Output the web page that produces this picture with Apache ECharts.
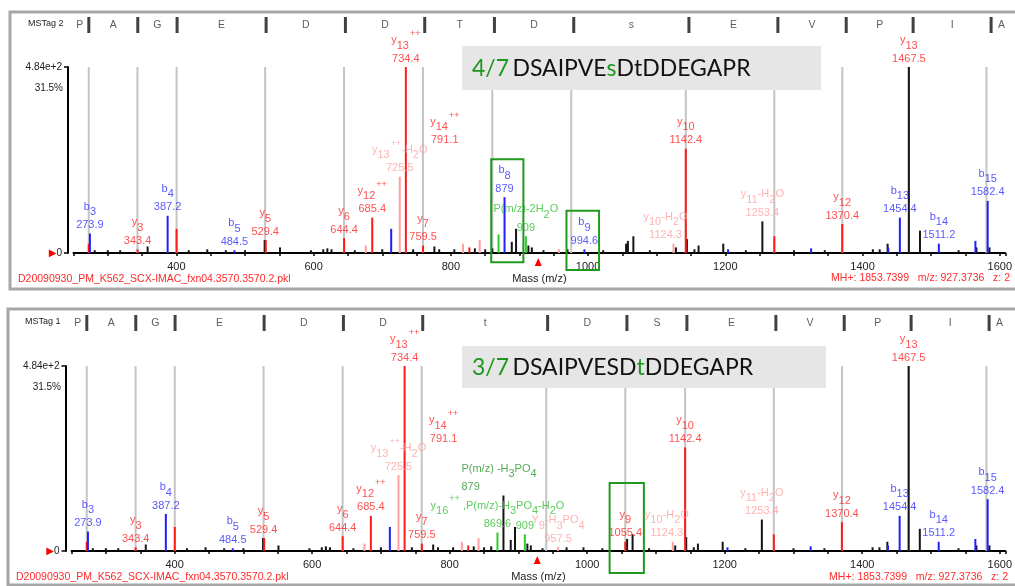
<!DOCTYPE html>
<html><head><meta charset="utf-8">
<script src="https://cdn.jsdelivr.net/npm/echarts@6/dist/echarts.min.js"></script>
<style>html,body{margin:0;padding:0;background:#fff}#c{width:1015px;height:586px}</style>
</head><body><div id="c"></div><script>
// ---------------- data ----------------
const xMin = 250, xMax = 1608, xTick = 50, xLabelStep = 200;
const yMaxLabel = '4.84e+2';
const yPctLabel = '31.5%';
const precursorMz = 927.3736;
const fileName = 'D20090930_PM_K562_SCX-IMAC_fxn04.3570.3570.2.pkl';
const precursorInfo = 'MH+: 1853.7399   m/z: 927.3736   z: 2';

const peakMz = [272.2, 273.9, 281, 300, 318, 343.4, 358, 387.2, 400.2, 418, 445, 472, 484.5, 500, 528.6, 530.2,
  551, 596, 614, 620, 626, 644.4, 660, 676, 685.4, 700, 713, 725.5, 734.4, 745, 759.5, 776, 783, 805, 817.7,
  827, 835, 842, 850, 860.4, 869.5, 878.2, 888.8, 895, 909.3, 913, 918, 935, 957.5, 970, 994.6, 1022, 1055.4,
  1058, 1066, 1090, 1124.5, 1128, 1142.4, 1144, 1155, 1161, 1197, 1204, 1230, 1254, 1271.4, 1300, 1325, 1345,
  1370.4, 1415, 1425, 1436.5, 1437.5, 1454.4, 1467.5, 1483.7, 1511.2, 1540, 1564.5, 1566, 1582.4, 1585];
const peakInt = [5, 10.5, 1.5, 1.5, 1.5, 2, 3.5, 20, 13, 1.5, 2, 1.5, 1.5, 1.5, 7, 7,
  3, 1.5, 2, 2.5, 2, 8, 1.5, 4, 19, 2, 13, 41, 100, 2, 4, 3.5, 2, 2, 5,
  3, 2.5, 7, 2, 2.5, 10, 30, 6, 13, 9, 4, 3, 1.5, 2, 2, 2, 1.5, 5,
  6.5, 9, 1.5, 5, 3, 56, 7.5, 2, 4, 5, 2, 1.5, 17, 9, 1.5, 2.5, 1.5,
  15.6, 2, 2, 5, 3, 19, 100, 12, 5, 1.5, 6.5, 3, 28, 3];
const peakClassTop = ['r','b','k','k','k','r','k','b','r','k','k','k','b','k','k','r',
  'k','k','k','k','k','r','k','p','r','k','b','p','r','k','r','k','k','k','p',
  'r','k','p','k','k','g','b','k','k','g','k','k','k','p','k','b','k','k',
  'k','k','k','p','k','r','k','k','k','k','b','k','k','r','k','b','k',
  'r','k','k','k','b','b','k','k','b','k','b','k','b','k'];
const peakClassBottom = ['r','b','k','k','k','r','k','b','r','k','k','k','b','k','k','r',
  'k','k','k','k','k','r','k','p','r','k','b','p','r','k','r','k','k','k','p',
  'r','k','p','k','k','g','k','k','k','g','k','k','k','p','k','k','k','r',
  'k','k','k','p','k','r','k','k','k','k','b','k','k','r','k','b','k',
  'r','k','k','k','b','b','k','k','b','k','b','k','b','k'];

const ladderTop = [272.2, 343.2, 400.2, 529.3, 644.3, 759.3, 860.4, 975.4, 1142.4, 1271.4, 1370.5, 1467.5, 1580.6];
const ladderBottom = [272.2, 343.2, 400.2, 529.3, 644.3, 759.3, 940.4, 1055.4, 1142.4, 1271.4, 1370.5, 1467.5, 1580.6];
const seqTop = ['P','A','G','E','D','D','T','D','s','E','V','P','I','A'];
const seqBottom = ['P','A','G','E','D','D','t','D','S','E','V','P','I','A'];

// annotations: [m/z, intensity, ion label, mass label, colour key]
const annTop = [
  [273.9, 10.5, 'b_3', '273.9', 'b'], [343.4, 2, 'y_3', '343.4', 'r'], [387.2, 20, 'b_4', '387.2', 'b'],
  [484.5, 1.5, 'b_5', '484.5', 'b'], [529.4, 7, 'y_5', '529.4', 'r'], [644.4, 8, 'y_6', '644.4', 'r'],
  [685.4, 19, 'y_12^++', '685.4', 'r'], [725.5, 41, 'y_13^++-H_2O', '725.5', 'p'], [734.4, 100, 'y_13^++', '734.4', 'r'],
  [759.5, 4, 'y_7', '759.5', 'r'], [791.1, 56, 'y_14^++', '791.1', 'r'], [878.2, 30, 'b_8', '879', 'b'],
  [909.3, 9, 'P(m/z)-2H_2O', '909', 'g'], [994.6, 2, 'b_9', '994.6', 'b'], [1124.5, 5, 'y_10-H_2O', '1124.3', 'p'],
  [1142.4, 56, 'y_10', '1142.4', 'r'], [1254, 17, 'y_11-H_2O', '1253.4', 'p'], [1370.4, 15.6, 'y_12', '1370.4', 'r'],
  [1454.4, 19, 'b_13', '1454.4', 'b'], [1467.5, 100, 'y_13', '1467.5', 'r'], [1511.2, 5, 'b_14', '1511.2', 'b'],
  [1582.4, 28, 'b_15', '1582.4', 'b']
];
const annBottom = [
  [273.9, 10.5, 'b_3', '273.9', 'b'], [343.4, 2, 'y_3', '343.4', 'r'], [387.2, 20, 'b_4', '387.2', 'b'],
  [484.5, 1.5, 'b_5', '484.5', 'b'], [529.4, 7, 'y_5', '529.4', 'r'], [644.4, 8, 'y_6', '644.4', 'r'],
  [685.4, 19, 'y_12^++', '685.4', 'r'], [725.5, 41, 'y_13^++-H_2O', '725.5', 'p'], [734.4, 100, 'y_13^++', '734.4', 'r'],
  [759.5, 4, 'y_7', '759.5', 'r'], [791.1, 56, 'y_14^++', '791.1', 'r'],
  [878.2, 30, 'P(m/z) -H_3PO_4', '879', 'dg'],
  [869.5, 10, 'y_16^++ ,P(m/z)-H_3PO_4-H_2O', '869.6', 'g'], [909.3, 9, '', '909', 'g'],
  [957.5, 2, 'Y_9-H_3PO_4', '957.5', 'p'], [1055.4, 5, 'y_9', '1055.4', 'r'],
  [1124.5, 5, 'y_10-H_2O', '1124.3', 'p'],
  [1142.4, 56, 'y_10', '1142.4', 'r'], [1254, 17, 'y_11-H_2O', '1253.4', 'p'], [1370.4, 15.6, 'y_12', '1370.4', 'r'],
  [1454.4, 19, 'b_13', '1454.4', 'b'], [1467.5, 100, 'y_13', '1467.5', 'r'], [1511.2, 5, 'b_14', '1511.2', 'b'],
  [1582.4, 28, 'b_15', '1582.4', 'b']
];
// highlighted regions: [m/z from, m/z to, intensity top, intensity bottom]
const boxTop = [[858.8, 905.7, 50.4, -5], [968.5, 1016, 22.7, -9.1]];
const boxBottom = [[1032.6, 1082.4, 36.8, -11.9]];
const titleTop = ['4/7', 'DSAIPVE', 's', 'DtDDEGAPR'];
const titleBottom = ['3/7', 'DSAIPVESD', 't', 'DDEGAPR'];

// ---------------- styles ----------------
const F = '"Liberation Sans", Arial, sans-serif';
const BAR = {r:'#ff1a1a', p:'#ff9f9f', b:'#2020ff', k:'#141414', g:'#2ccc2c'};
const LAB = {r:'#ff2424', p:'#ffa0a0', b:'#3030ff', g:'#33c133', dg:'#2a942a'};
const LADDER_COLOR = '#c4c4c4';
const RICH = {
  i: {fontSize: 11, lineHeight: 22, fontFamily: F},
  s: {fontSize: 11, lineHeight: 11, verticalAlign: 'bottom', fontFamily: F},
  p: {fontSize: 9, lineHeight: 9, verticalAlign: 'top', fontFamily: F, padding: [0, 0, 0, 1]},
  n: {fontSize: 11, lineHeight: 15, fontFamily: F}
};
const annStyleTop = {14: {offset: [-8, 0]}};
const annStyleBottom = {11: {align: 'left', offset: [-42, 0]}, 16: {offset: [-6, 0]}};

function toRich(markup) {
  let out = '';
  const re = /_(\d+)|\^(\++)|([^_^]+)/g; let m;
  while ((m = re.exec(markup))) {
    if (m[1]) out += '{s|' + m[1] + '}';
    else if (m[2]) out += '{p|' + m[2] + '}';
    else out += '{i|' + m[3] + '}';
  }
  return out;
}

const grids = [
  {left: 73.5, top: 67, width: 936.5, height: 186},
  {left: 71.5, top: 366, width: 936.5, height: 185},
  {left: 73.5, top: 17, width: 936.5, height: 16},
  {left: 71.5, top: 315, width: 936.5, height: 16}
];
function mainX(gi) {
  return {type: 'value', gridIndex: gi, min: xMin, max: xMax, interval: xTick,
    name: 'Mass (m/z)', nameLocation: 'middle', nameGap: 20,
    nameTextStyle: {fontSize: 11, color: '#222', fontFamily: F},
    axisLine: {lineStyle: {color: '#000', width: 2}},
    axisTick: {length: 3, lineStyle: {color: '#000', width: 1.5}},
    axisLabel: {formatter: v => (v % xLabelStep === 0 ? String(v) : ''), fontSize: 11, color: '#222', margin: 8, fontFamily: F},
    splitLine: {show: false}};
}
function hdrX(gi) { return {type: 'value', gridIndex: gi, min: xMin, max: xMax, show: false}; }
function mainY(gi, off) {
  return {type: 'value', gridIndex: gi, min: 0, max: 100, interval: 100, offset: off,
    axisLine: {show: true, lineStyle: {color: '#000', width: 2}},
    axisTick: {show: true, length: 4, lineStyle: {color: '#000', width: 1.5}},
    axisLabel: {margin: 6, fontSize: 10, color: '#222', fontFamily: F,
      formatter: v => v === 0 ? '{t|▶}0' : yMaxLabel,
      rich: {t: {color: '#ff0000', fontSize: 10, fontFamily: 'DejaVu Sans'}}},
    splitLine: {show: false}};
}
function hdrY(gi) { return {type: 'value', gridIndex: gi, min: 0, max: 1, show: false}; }

function panelSeries(gi, hi, classes, ladder, seq, ann, annStyle) {
  const s = [];
  // fragment ladder lines (full height, behind the peaks)
  s.push({type: 'bar', xAxisIndex: gi, yAxisIndex: gi, barWidth: 2, barGap: '-100%', z: 1, silent: true,
    itemStyle: {color: LADDER_COLOR}, data: ladder.map(v => [v, 100])});
  ['k', 'p', 'r', 'b', 'g'].forEach(c => {
    const d = [];
    peakMz.forEach((m, i) => { if (classes[i] === c) d.push([m, peakInt[i]]); });
    s.push({type: 'bar', xAxisIndex: gi, yAxisIndex: gi, barWidth: 2, barGap: '-100%', z: 2,
      itemStyle: {color: BAR[c]}, data: d, silent: true});
  });
  s.push({type: 'scatter', xAxisIndex: gi, yAxisIndex: gi, symbolSize: 0, z: 4, silent: true,
    label: {show: true, position: 'top', distance: 1, formatter: p => p.data.txt, rich: RICH},
    data: ann.map((a, i) => {
      const txt = (a[2] ? toRich(a[2]) : '') + (a[2] && a[3] ? '\n' : '') + (a[3] ? '{n|' + a[3] + '}' : '');
      const lab = Object.assign({color: LAB[a[4]]}, annStyle[i] || {});
      return {value: [a[0], a[1]], txt: txt, label: lab};
    }),
    markPoint: {symbol: 'triangle', symbolSize: [7, 8], symbolOffset: [0, 9], silent: true,
      itemStyle: {color: '#ff0000'}, label: {show: false},
      data: [{coord: [precursorMz, 0]}]}});
  // header: separators and residue letters
  s.push({type: 'scatter', xAxisIndex: hi, yAxisIndex: hi, symbol: 'rect', symbolSize: [3, 16], silent: true,
    itemStyle: {color: '#111'}, data: ladder.map(v => [v, 0.5])});
  const pos = seq.map((L, i) => i === 0 ? ladder[0] - 13 : (i === seq.length - 1 ? ladder[ladder.length - 1] + 15 : (ladder[i - 1] + ladder[i]) / 2));
  s.push({type: 'scatter', xAxisIndex: hi, yAxisIndex: hi, symbolSize: 0, silent: true,
    label: {show: true, position: 'inside', formatter: p => p.data.t, fontSize: 10.5, color: '#333', fontFamily: F},
    data: seq.map((L, i) => ({value: [pos[i], 0.5], t: L}))});
  return s;
}

const chart = echarts.init(document.getElementById('c'), null, {renderer: 'canvas'});
const titleRich = {g: {fill: '#1c961c', fontSize: 23, fontFamily: 'Lato'}, k: {fill: '#111', fontSize: 23, fontFamily: 'Lato'}};
const baseGraphic = [
  {type: 'rect', shape: {x: 10, y: 12, width: 1010, height: 277}, style: {fill: 'none', stroke: '#a6a6a6', lineWidth: 3}, z: 0},
  {type: 'rect', shape: {x: 8, y: 309, width: 1012, height: 276}, style: {fill: 'none', stroke: '#a6a6a6', lineWidth: 3}, z: 0},
  {type: 'text', x: 28, y: 24, style: {text: 'MSTag 2', fontSize: 9, fontFamily: F, fill: '#222', verticalAlign: 'middle'}},
  {type: 'text', x: 25, y: 322, style: {text: 'MSTag 1', fontSize: 9, fontFamily: F, fill: '#222', verticalAlign: 'middle'}},
  {type: 'text', x: 63, y: 88, style: {text: yPctLabel, fontSize: 10, fontFamily: F, fill: '#222', align: 'right', verticalAlign: 'middle'}},
  {type: 'text', x: 61, y: 387, style: {text: yPctLabel, fontSize: 10, fontFamily: F, fill: '#222', align: 'right', verticalAlign: 'middle'}},
  {type: 'text', x: 18, y: 279, style: {text: fileName, fontSize: 10.5, fontFamily: F, fill: '#ff2a2a', verticalAlign: 'middle'}},
  {type: 'text', x: 16, y: 577, style: {text: fileName, fontSize: 10.5, fontFamily: F, fill: '#ff2a2a', verticalAlign: 'middle'}},
  {type: 'text', x: 1010, y: 278, style: {text: precursorInfo, fontSize: 10.5, fontFamily: F, fill: '#ff2a2a', align: 'right', verticalAlign: 'middle'}},
  {type: 'text', x: 1008, y: 577, style: {text: precursorInfo, fontSize: 10.5, fontFamily: F, fill: '#ff2a2a', align: 'right', verticalAlign: 'middle'}},
  {type: 'rect', shape: {x: 462, y: 46, width: 359, height: 44}, style: {fill: '#e6e6e6'}, z: 10},
  {type: 'rect', shape: {x: 462, y: 346, width: 364, height: 42}, style: {fill: '#e6e6e6'}, z: 10},
  {type: 'text', x: 472, y: 69, z: 11, style: {text: '{g|' + titleTop[0] + '} {k|' + titleTop[1] + '}{g|' + titleTop[2] + '}{k|' + titleTop[3] + '}',
    verticalAlign: 'middle', rich: titleRich}},
  {type: 'text', x: 472, y: 368, z: 11, style: {text: '{g|' + titleBottom[0] + '} {k|' + titleBottom[1] + '}{g|' + titleBottom[2] + '}{k|' + titleBottom[3] + '}',
    verticalAlign: 'middle', rich: titleRich}}
];

chart.setOption({
  animation: false,
  backgroundColor: '#fff',
  grid: grids,
  xAxis: [mainX(0), mainX(1), hdrX(2), hdrX(3)],
  yAxis: [mainY(0, 5.5), mainY(1, 6), hdrY(2), hdrY(3)],
  series: [].concat(
    panelSeries(0, 2, peakClassTop, ladderTop, seqTop, annTop, annStyleTop),
    panelSeries(1, 3, peakClassBottom, ladderBottom, seqBottom, annBottom, annStyleBottom)),
  graphic: baseGraphic
});

function boxes(list, gi) {
  return list.map(b => {
    const p1 = chart.convertToPixel({gridIndex: gi}, [b[0], b[2]]);
    const p2 = chart.convertToPixel({gridIndex: gi}, [b[1], b[3]]);
    return {type: 'rect', z: 12, shape: {x: p1[0], y: p1[1], width: p2[0] - p1[0], height: p2[1] - p1[1]},
      style: {fill: 'none', stroke: '#1f9a1f', lineWidth: 2}};
  });
}
chart.setOption({graphic: baseGraphic.concat(boxes(boxTop, 0), boxes(boxBottom, 1))});
</script></body></html>
